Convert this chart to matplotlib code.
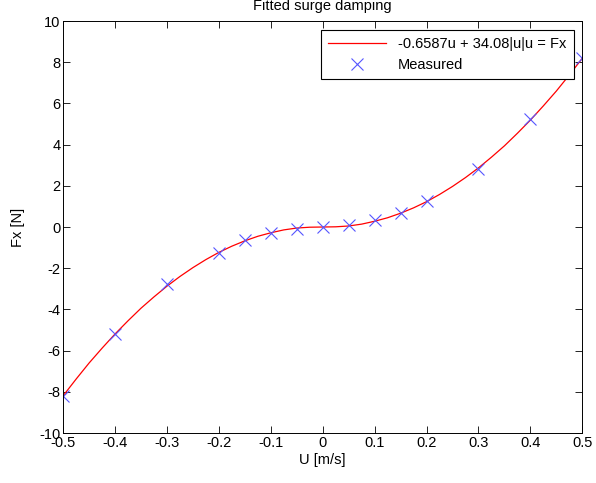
import numpy as np
import matplotlib.pyplot as plt

# measured surge force
u_meas = [-0.5, -0.4, -0.3, -0.2, -0.15, -0.1, -0.05, 0, 0.05, 0.1, 0.15, 0.2, 0.3, 0.4, 0.5]
fx_meas = [-8.2, -5.2, -2.75, -1.25, -0.65, -0.3, -0.08, -0.02, 0.08, 0.33, 0.68, 1.28, 2.8, 5.25, 8.2]

# fitted curve
u_fit = [-0.5, -0.475, -0.45, -0.425, -0.4, -0.375, -0.35, -0.325, -0.3, -0.275,
         -0.25, -0.225, -0.2, -0.175, -0.15, -0.125, -0.1, -0.075, -0.05, -0.025, 0,
         0.025, 0.05, 0.075, 0.1, 0.125, 0.15, 0.175, 0.2, 0.225, 0.25,
         0.275, 0.3, 0.325, 0.35, 0.375, 0.4, 0.425, 0.45, 0.475, 0.5]
fx_fit = [-8.19, -7.38, -6.6, -5.88, -5.19, -4.55, -3.94, -3.39, -2.87, -2.40,
          -1.97, -1.58, -1.23, -0.93, -0.67, -0.45, -0.28, -0.14, -0.05, -0.01, 0,
          0.01, 0.05, 0.14, 0.28, 0.45, 0.67, 0.93, 1.23, 1.58, 1.97,
          2.40, 2.87, 3.39, 3.94, 4.55, 5.19, 5.88, 6.6, 7.38, 8.19]

plt.rcParams["font.family"] = ["Liberation Sans", "DejaVu Sans"]
plt.rcParams["font.size"] = 10.5
plt.rcParams["axes.unicode_minus"] = False

fig = plt.figure(figsize=(5.96, 4.83), dpi=100)
ax = fig.add_axes([0.106, 0.1035, 0.871, 0.853])

ax.plot(u_fit, fx_fit, color="red", linewidth=0.9, label="-0.6587u + 34.08|u|u = Fx")
ax.plot(u_meas, fx_meas, "x", color="#5555ff", markersize=9, markeredgewidth=0.8,
        label="Measured", linestyle="none")

ax.set_xlim(-0.5, 0.5)
ax.set_ylim(-10, 10)
ax.set_xticks(np.arange(-0.5, 0.51, 0.1))
ax.set_xticklabels(["-0.5", "-0.4", "-0.3", "-0.2", "-0.1", "0", "0.1", "0.2", "0.3", "0.4", "0.5"])
ax.set_yticks(np.arange(-10, 11, 2))
ax.tick_params(direction="in", top=True, right=True, length=5, width=0.6, pad=2)
for s in ax.spines.values():
    s.set_linewidth(0.7)

ax.set_title("Fitted surge damping", fontsize=10.5, pad=8)
ax.set_xlabel("U [m/s]", labelpad=2)
ax.set_ylabel("Fx [N]", labelpad=10)

leg = ax.legend(loc="upper right", fancybox=False, framealpha=1, edgecolor="black",
                borderaxespad=0.6, handlelength=4.0, fontsize=10.5, borderpad=0.5,
                labelspacing=0.45)
leg.get_frame().set_linewidth(0.8)

plt.savefig("out.png", dpi=100)
